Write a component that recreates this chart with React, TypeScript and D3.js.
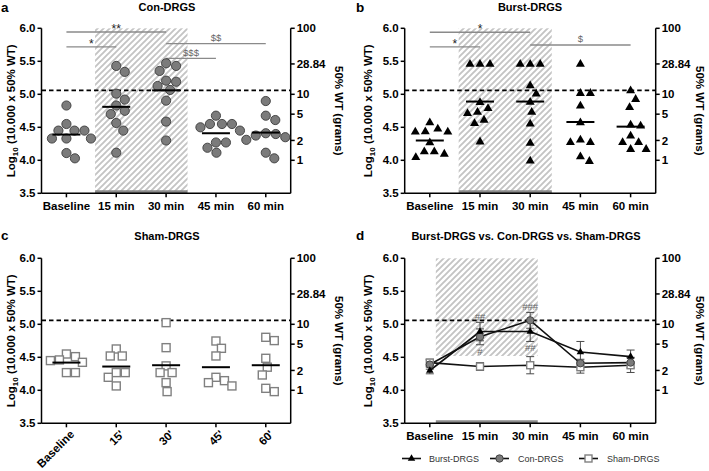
import React from "react";
import * as d3 from "d3";

// ---------- data ----------
const CATS = ["Baseline", "15 min", "30 min", "45 min", "60 min"];
const CATS_SHAM = ["Baseline", "15'", "30'", "45'", "60'"];
const LEFT_TICKS = [3.5, 4.0, 4.5, 5.0, 5.5, 6.0];
const RIGHT_TICKS = [100, 28.84, 10, 5, 2, 1];
const THRESHOLD = 5.06;

const CON_DRGS = [
  [4.83, 4.55, 4.45, 4.45, 4.45, 4.33, 4.33, 4.33, 4.11, 4.03],
  [5.43, 5.34, 5.01, 4.92, 4.83, 4.75, 4.7, 4.565, 4.45, 4.115],
  [5.47, 5.43, 5.354, 5.207, 5.19, 5.126, 5.066, 4.904, 4.586, 4.3],
  [4.676, 4.55, 4.55, 4.55, 4.5, 4.45, 4.27, 4.27, 4.19, 4.115],
  [4.898, 4.676, 4.61, 4.41, 4.398, 4.375, 4.35, 4.31, 4.115, 4.03],
];
const CON_MEANS = [4.39, 4.81, 5.06, 4.41, 4.42];
const CON_SEM = [0.07, 0.12, 0.12, 0.06, 0.08];

const BURST_DRGS = [
  [4.57, 4.474, 4.434, 4.43, 4.43, 4.267, 4.13, 4.13, 4.095, 4.045],
  [5.455, 5.455, 5.455, 4.878, 4.787, 4.73, 4.71, 4.61, 4.56, 4.28],
  [5.455, 5.455, 5.455, 5.13, 5.005, 4.88, 4.73, 4.55, 4.26, 3.99],
  [5.455, 5.015, 5.015, 4.823, 4.57, 4.31, 4.27, 4.27, 4.056, 3.985],
  [5.056, 4.924, 4.8, 4.535, 4.52, 4.37, 4.27, 4.27, 4.167, 4.167],
];
const BURST_MEANS = [4.3, 4.89, 4.89, 4.58, 4.51];
const BURST_SEM = [0.05, 0.14, 0.15, 0.16, 0.1];

const SHAM_DRGS = [
  [4.55, 4.51, 4.46, 4.45, 4.424, 4.268, 4.268],
  [4.626, 4.52, 4.52, 4.268, 4.268, 4.197, 4.066],
  [5.025, 4.646, 4.37, 4.268, 4.268, 4.116, 3.98],
  [4.747, 4.636, 4.52, 4.197, 4.146, 4.116, 4.066],
  [4.803, 4.753, 4.485, 4.35, 4.232, 4.03, 3.98],
];
const SHAM_MEANS = [4.42, 4.36, 4.38, 4.35, 4.38];
const SHAM_SEM = [0.05, 0.06, 0.13, 0.09, 0.11];

// significance brackets: from category, to category, level (log value), label
const CON_BRACKETS = [
  { from: 0, to: 2, level: 5.944, label: "**", star: true },
  { from: 0, to: 1, level: 5.72, label: "*", star: true },
  { from: 2, to: 4, level: 5.767, label: "$$", star: false },
  { from: 2, to: 3, level: 5.545, label: "$$$", star: false },
];
const BURST_BRACKETS = [
  { from: 0, to: 2, level: 5.94, label: "*", star: true },
  { from: 0, to: 1, level: 5.72, label: "*", star: true },
  { from: 2, to: 4, level: 5.747, label: "$", star: false },
];
// panel d annotations: category index, above/below, label
const D_ANNOT = [
  { idx: 1, above: true, label: "##" },
  { idx: 1, above: false, label: "#" },
  { idx: 2, above: true, label: "###" },
  { idx: 2, above: false, label: "##" },
];
const LEGEND = ["Burst-DRGS", "Con-DRGS", "Sham-DRGS"];

// ---------- styling ----------
const FONT = "Arial, 'Liberation Sans', Helvetica, sans-serif";
const HATCH_COLOR = "#c4c4c4";
const CIRCLE_FILL = "#7b7b7b";
const CIRCLE_STROKE = "#3c3c3c";
const SQUARE_STROKE = "#808080";

type Box = {
  left: number;
  right: number;
  top: number;
  bottom: number;
  ylabX: number;
  rlabX: number;
  letter: string;
  letterX: number;
  letterY: number;
  title: string;
  titleX: number;
  titleY: number;
};

function swarm(values: number[], y: (v: number) => number, diam: number) {
  const order = values.map((v, i) => ({ i, y: y(v) })).sort((a, b) => a.y - b.y);
  const placed: { x: number; y: number }[] = [];
  const out: { dx: number; y: number }[] = new Array(values.length);
  for (const p of order) {
    let best = 0;
    for (let k = 0; k < 400; k++) {
      const cand = k === 0 ? 0 : (k % 2 === 1 ? 1 : -1) * Math.ceil(k / 2) * 0.5;
      const ok = placed.every((q) => (q.x - cand) ** 2 + (q.y - p.y) ** 2 >= diam * diam - 0.01);
      if (ok) {
        best = cand;
        break;
      }
    }
    placed.push({ x: best, y: p.y });
    out[p.i] = { dx: best, y: p.y };
  }
  return out;
}

const triPath = (side: number) => d3.symbol(d3.symbolTriangle, (Math.sqrt(3) / 4) * side * side)()!;

function Marker({ kind, x, y, small }: { kind: string; x: number; y: number; small?: boolean }) {
  if (kind === "circle")
    return (
      <circle cx={x} cy={y} r={small ? 3.7 : 4.6} fill={CIRCLE_FILL} stroke={CIRCLE_STROKE} strokeWidth={0.9} />
    );
  if (kind === "triangle")
    return <path d={triPath(small ? 7.5 : 9)} transform={`translate(${x},${y})`} fill="#000" />;
  const s = small ? 7 : 8;
  return (
    <rect x={x - s / 2} y={y - s / 2} width={s} height={s} fill="#fff" stroke={SQUARE_STROKE} strokeWidth={1.4} />
  );
}

function Frame({ box, cats, rotate }: { box: Box; cats: string[]; rotate?: boolean }) {
  const y = d3.scaleLinear().domain([3.5, 6.0]).range([box.bottom, box.top]);
  const x = d3.scalePoint<string>().domain(cats).range([box.left, box.right]).padding(0.5);
  const midY = (box.top + box.bottom) / 2;
  return (
    <g fontFamily={FONT}>
      <text x={box.letterX} y={box.letterY} fontSize={13.5} fontWeight="bold">
        {box.letter}
      </text>
      <text x={box.titleX} y={box.titleY} fontSize={11} fontWeight="bold" textAnchor="middle">
        {box.title}
      </text>
      {/* dashed threshold */}
      <line
        x1={box.left}
        x2={box.right}
        y1={y(THRESHOLD)}
        y2={y(THRESHOLD)}
        stroke="#000"
        strokeWidth={1.6}
        strokeDasharray="4.5,3"
      />
      {/* left axis */}
      <line x1={box.left} x2={box.left} y1={box.top} y2={box.bottom} stroke="#000" strokeWidth={1.5} />
      {LEFT_TICKS.map((t) => (
        <g key={t}>
          <line x1={box.left - 4} x2={box.left} y1={y(t)} y2={y(t)} stroke="#000" strokeWidth={1.5} />
          <text x={box.left - 6} y={y(t)} dy="0.36em" fontSize={11.5} fontWeight="bold" textAnchor="end">
            {t.toFixed(1)}
          </text>
        </g>
      ))}
      {/* right axis */}
      <line x1={box.right} x2={box.right} y1={box.top} y2={box.bottom} stroke="#000" strokeWidth={1.5} />
      {RIGHT_TICKS.map((g) => {
        const v = 4 + Math.log10(g);
        return (
          <g key={g}>
            <line x1={box.right} x2={box.right + 4} y1={y(v)} y2={y(v)} stroke="#000" strokeWidth={1.5} />
            <text x={box.right + 6} y={y(v)} dy="0.36em" fontSize={11.5} fontWeight="bold">
              {String(g)}
            </text>
          </g>
        );
      })}
      {/* bottom axis */}
      <line x1={box.left} x2={box.right} y1={box.bottom} y2={box.bottom} stroke="#000" strokeWidth={1.5} />
      {cats.map((c) => (
        <g key={c}>
          <line x1={x(c)} x2={x(c)} y1={box.bottom} y2={box.bottom + 4} stroke="#000" strokeWidth={1.5} />
          {rotate ? (
            <text
              transform={`translate(${x(c)! + 3},${box.bottom + 6}) rotate(-45)`}
              fontSize={11.5}
              fontWeight="bold"
              textAnchor="end"
              dy="0.7em"
            >
              {c}
            </text>
          ) : (
            <text x={x(c)} y={box.bottom + 17} fontSize={11.5} fontWeight="bold" textAnchor="middle">
              {c}
            </text>
          )}
        </g>
      ))}
      {/* axis titles */}
      <text
        transform={`translate(${box.ylabX},${midY}) rotate(-90)`}
        fontSize={11.5}
        fontWeight="bold"
        textAnchor="middle"
        dy="0.35em"
      >
        Log
        <tspan fontSize={8} dy="3">
          10
        </tspan>
        <tspan dy="-3"> (10.000 x 50% WT)</tspan>
      </text>
      <text
        transform={`translate(${box.rlabX},${midY}) rotate(90)`}
        fontSize={11.5}
        fontWeight="bold"
        textAnchor="middle"
        dy="0.35em"
      >
        50% WT (grams)
      </text>
    </g>
  );
}

function Hatch({
  box,
  cats,
  from,
  to,
  lowVal,
}: {
  box: Box;
  cats: string[];
  from: number;
  to: number;
  lowVal: number;
}) {
  const y = d3.scaleLinear().domain([3.5, 6.0]).range([box.bottom, box.top]);
  const x = d3.scalePoint<string>().domain(cats).range([box.left, box.right]).padding(0.5);
  const step = x.step();
  const x0 = x(cats[0])! + from * step;
  const x1 = x(cats[0])! + to * step;
  return (
    <g>
      <rect x={x0} y={y(6.0)} width={x1 - x0} height={y(lowVal) - y(6.0)} fill="url(#hatch)" />
      <line x1={x0} x2={x1} y1={box.bottom - 1.5} y2={box.bottom - 1.5} stroke="#8a8a8a" strokeWidth={3} />
    </g>
  );
}

function ScatterPanel({
  box,
  cats,
  data,
  means,
  kind,
  brackets,
  rotate,
  hatch,
}: {
  box: Box;
  cats: string[];
  data: number[][];
  means: number[];
  kind: string;
  brackets: { from: number; to: number; level: number; label: string; star: boolean }[];
  rotate?: boolean;
  hatch?: boolean;
}) {
  const y = d3.scaleLinear().domain([3.5, 6.0]).range([box.bottom, box.top]);
  const x = d3.scalePoint<string>().domain(cats).range([box.left, box.right]).padding(0.5);
  const diam = kind === "square" ? 9 : 10;
  return (
    <g>
      {hatch && <Hatch box={box} cats={cats} from={0.575} to={2.43} lowVal={3.5} />}
      <Frame box={box} cats={cats} rotate={rotate} />
      {brackets.map((b, i) => {
        const xa = x(cats[b.from])!;
        const xb = x(cats[b.to])!;
        return (
          <g key={i}>
            <line x1={xa} x2={xb} y1={y(b.level)} y2={y(b.level)} stroke="#8a8a8a" strokeWidth={1.3} />
            <text
              x={(xa + xb) / 2}
              y={y(b.level) - (b.star ? -1 : 2.5)}
              fontFamily={FONT}
              fontSize={b.star ? 12 : 9.5}
              fill={b.star ? "#222" : "#666"}
              textAnchor="middle"
            >
              {b.label}
            </text>
          </g>
        );
      })}
      {data.map((vals, ci) => {
        const cx = x(cats[ci])!;
        const pts = swarm(vals, y, diam);
        return (
          <g key={ci}>
            {pts.map((p, i) => (
              <Marker key={i} kind={kind} x={cx + p.dx} y={p.y} />
            ))}
            <line x1={cx - 14} x2={cx + 14} y1={y(means[ci])} y2={y(means[ci])} stroke="#000" strokeWidth={2} />
          </g>
        );
      })}
    </g>
  );
}

function SummaryPanel({ box }: { box: Box }) {
  const y = d3.scaleLinear().domain([3.5, 6.0]).range([box.bottom, box.top]);
  const x = d3.scalePoint<string>().domain(CATS).range([box.left, box.right]).padding(0.5);
  const series = [
    { kind: "square", means: SHAM_MEANS, sem: SHAM_SEM },
    { kind: "circle", means: CON_MEANS, sem: CON_SEM },
    { kind: "triangle", means: BURST_MEANS, sem: BURST_SEM },
  ];
  const line = d3
    .line<number>()
    .x((_, i) => x(CATS[i])!)
    .y((v) => y(v));
  const legendItems = [
    { kind: "triangle", label: LEGEND[0], x0: 402, tx: 429 },
    { kind: "circle", label: LEGEND[1], x0: 490, tx: 518 },
    { kind: "square", label: LEGEND[2], x0: 579, tx: 607 },
  ];
  const legY = 458.5;
  return (
    <g>
      <Hatch box={box} cats={CATS} from={0.12} to={2.15} lowVal={4.52} />
      <Frame box={box} cats={CATS} />
      {series.map((s, si) => (
        <g key={"e" + si}>
          {s.means.map((m, i) => {
            const cx = x(CATS[i])!;
            return (
              <g key={i} stroke="#4a4a4a" strokeWidth={1}>
                <line x1={cx} x2={cx} y1={y(m + s.sem[i])} y2={y(m - s.sem[i])} />
                <line x1={cx - 4} x2={cx + 4} y1={y(m + s.sem[i])} y2={y(m + s.sem[i])} />
                <line x1={cx - 4} x2={cx + 4} y1={y(m - s.sem[i])} y2={y(m - s.sem[i])} />
              </g>
            );
          })}
        </g>
      ))}
      {series.map((s, si) => (
        <path key={"l" + si} d={line(s.means)!} fill="none" stroke="#111" strokeWidth={1.6} />
      ))}
      {series.map((s, si) => (
        <g key={"m" + si}>
          {s.means.map((m, i) => (
            <Marker key={i} kind={s.kind} x={x(CATS[i])!} y={y(m)} small />
          ))}
        </g>
      ))}
      {D_ANNOT.map((a, i) => {
        const cx = x(CATS[a.idx])!;
        const tops = series.map((s) => s.means[a.idx] + s.sem[a.idx]);
        const bots = series
          .filter((s) => s.kind !== "square")
          .map((s) => s.means[a.idx] - s.sem[a.idx]);
        const yy = a.above ? y(Math.max(...tops)) - 2.5 : y(Math.min(...bots)) + 10;
        return (
          <text key={i} x={cx} y={yy} fontFamily={FONT} fontSize={9.5} fill="#666" textAnchor="middle">
            {a.label}
          </text>
        );
      })}
      {legendItems.map((it) => (
        <g key={it.label}>
          <line x1={it.x0} x2={it.x0 + 19} y1={legY} y2={legY} stroke="#111" strokeWidth={1.6} />
          <Marker kind={it.kind} x={it.x0 + 9.5} y={legY} small />
          <text x={it.tx} y={legY} dy="0.35em" fontFamily={FONT} fontSize={9} fill="#333">
            {it.label}
          </text>
        </g>
      ))}
    </g>
  );
}

const BOX_A: Box = {
  left: 41.5, right: 290.7, top: 28.3, bottom: 193.3, ylabX: 11, rlabX: 339,
  letter: "a", letterX: 1, letterY: 11.5, title: "Con-DRGS", titleX: 167, titleY: 10.5,
};
const BOX_B: Box = {
  left: 404.7, right: 655.7, top: 28.3, bottom: 193.3, ylabX: 368, rlabX: 700.5,
  letter: "b", letterX: 356, letterY: 11.5, title: "Burst-DRGS", titleX: 530, titleY: 10.5,
};
const BOX_C: Box = {
  left: 41.5, right: 290.7, top: 258.3, bottom: 423.3, ylabX: 11, rlabX: 339,
  letter: "c", letterX: 1, letterY: 240, title: "Sham-DRGS", titleX: 167, titleY: 240,
};
const BOX_D: Box = {
  left: 404.7, right: 655.7, top: 258.3, bottom: 423.3, ylabX: 368, rlabX: 700.5,
  letter: "d", letterX: 356, letterY: 240, title: "Burst-DRGS vs. Con-DRGS vs. Sham-DRGS", titleX: 526, titleY: 240,
};

export default function App() {
  return (
    <svg
      width={709}
      height={471}
      viewBox="0 0 709 471"
      style={{ position: "absolute", left: 0, top: 0, background: "#fff" }}
    >
      <defs>
        <pattern id="hatch" patternUnits="userSpaceOnUse" width={6} height={6}>
          <path d="M-1,1 l2,-2 M0,6 l6,-6 M5,7 l2,-2" stroke={HATCH_COLOR} strokeWidth={1.9} />
        </pattern>
      </defs>
      <rect width={709} height={471} fill="#fff" />
      <ScatterPanel box={BOX_A} cats={CATS} data={CON_DRGS} means={CON_MEANS} kind="circle" brackets={CON_BRACKETS} hatch />
      <ScatterPanel box={BOX_B} cats={CATS} data={BURST_DRGS} means={BURST_MEANS} kind="triangle" brackets={BURST_BRACKETS} hatch />
      <ScatterPanel box={BOX_C} cats={CATS_SHAM} data={SHAM_DRGS} means={SHAM_MEANS} kind="square" brackets={[]} rotate />
      <SummaryPanel box={BOX_D} />
    </svg>
  );
}
